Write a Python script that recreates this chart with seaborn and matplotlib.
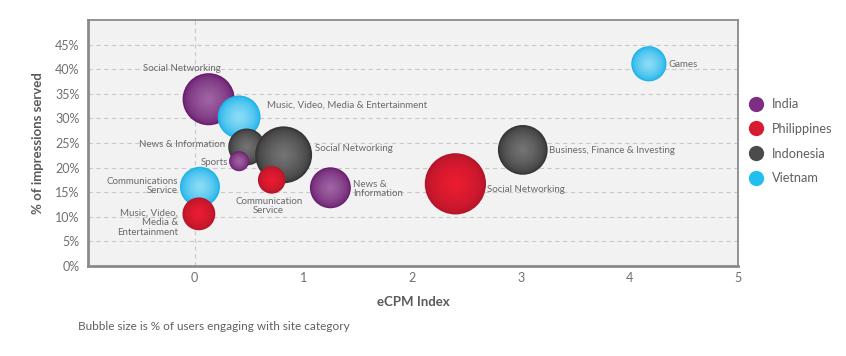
import numpy as np
import pandas as pd
import matplotlib.pyplot as plt
import matplotlib.colors as mcolors
from matplotlib.lines import Line2D
import seaborn as sns

sns.set_style("white")
plt.rcParams["font.family"] = ["Lato", "DejaVu Sans"]

# bubbles, in drawing order (later ones sit on top)
countries = ["India", "Vietnam", "Indonesia", "Indonesia", "India", "Philippines",
             "Vietnam", "Philippines", "India", "Philippines", "Indonesia", "Vietnam"]
categories = ["Social Networking", "Music, Video, Media & Entertainment",
              "News & Information", "Social Networking", "Sports",
              "Communication\nService", "Communications\nService",
              "Music, Video,\nMedia &\nEntertainment", "News &\nInformation",
              "Social Networking", "Business, Finance & Investing", "Games"]
ecpm = [0.13, 0.41, 0.48, 0.82, 0.41, 0.71, 0.05, 0.04, 1.25, 2.40, 3.02, 4.18]
impressions = [33.9, 30.3, 24.2, 22.6, 21.3, 17.5, 16.1, 10.6, 15.9, 16.7, 23.6, 41.1]
users = [68, 46, 34, 81, 10, 19, 40, 27, 42, 94, 62, 31]

country_order = ["India", "Philippines", "Indonesia", "Vietnam"]
palette = {"India": "#7E2C84", "Philippines": "#D81B2F",
           "Indonesia": "#4B4B4B", "Vietnam": "#22BEEE"}
# edge / centre colours for the sphere look
shading = {"India": ("#6A1E70", "#A064A3"), "Philippines": ("#B5152A", "#EC1C30"),
           "Indonesia": ("#363636", "#747474"), "Vietnam": ("#1CB2EA", "#8EDCF6")}

# label offsets in pixels and alignment
offsets = [(-27, 31, "center"), (28, 12, "left"), (-22, 2, "right"), (31, 6, "left"),
           (-11, -1, "right"), (-3, -26, "center"), (-22, 1, "right"), (-21, -9, "right"),
           (23, -1, "left"), (32, -6, "left"), (26, -1, "left"), (20, -1, "left")]

df = pd.DataFrame({"country": countries, "category": categories, "ecpm": ecpm,
                   "impressions": impressions, "users": users})

# fake sphere shading: stack shrinking, lighter discs per bubble
n_layers = 16
rows = []
shades = {}
for i, r in df.iterrows():
    dark = np.array(mcolors.to_rgb(shading[r["country"]][0]))
    light = np.array(mcolors.to_rgb(shading[r["country"]][1]))
    for k in range(n_layers):
        t = k / (n_layers - 1)
        scale = 1 - 0.94 * t
        key = f"{i}_{k}"
        shades[key] = tuple(dark + (light - dark) * t ** 0.6)
        rows.append({"ecpm": r["ecpm"], "impressions": r["impressions"],
                     "size": r["users"] * scale ** 2, "shade": key})
layers = pd.DataFrame(rows)

fig = plt.figure(figsize=(8.46, 3.56), dpi=100)
ax = fig.add_axes([88 / 846, 1 - 266 / 356, 650 / 846, 246 / 356])
ax.set_facecolor("#F2F2F2")

sns.scatterplot(data=layers, x="ecpm", y="impressions", hue="shade", palette=shades,
                size="size", sizes=(0, 2070), size_norm=(0, 100), linewidth=0,
                legend=False, ax=ax, zorder=3)

for i, r in df.iterrows():
    dx, dy, ha = offsets[i]
    ax.annotate(r["category"], (r["ecpm"], r["impressions"]), xytext=(dx, dy),
                textcoords="offset pixels", ha=ha, va="center", multialignment=ha,
                fontsize=7, color="#6A6A6A", linespacing=1.05, zorder=5)

ax.set_xlim(-0.98, 5)
ax.set_ylim(0, 50)
ax.set_xticks(range(0, 6))
ax.set_yticks(range(0, 50, 5))
ax.set_yticklabels([f"{v}%" for v in range(0, 50, 5)])
ax.tick_params(length=0, labelsize=9, colors="#707070")
ax.tick_params(axis="y", pad=6)
ax.tick_params(axis="x", pad=4)

ax.yaxis.grid(True, color="#C9C9C9", linestyle=(0, (4, 3)), linewidth=0.8)
ax.axvline(0, color="#C9C9C9", linestyle=(0, (4, 3)), linewidth=0.8, zorder=1)
ax.set_axisbelow(True)

for side, sp in ax.spines.items():
    sp.set_visible(True)
    sp.set_color("#8A8A8A")
    sp.set_linewidth(2 if side in ("left", "bottom") else 1.3)

ax.set_xlabel("eCPM Index", fontsize=9.5, fontweight="bold", color="#5A5A5A", labelpad=9)
ax.set_ylabel("% of impressions served", fontsize=9.5, fontweight="bold",
              color="#5A5A5A", labelpad=8)

handles = [Line2D([], [], marker="o", linestyle="", markersize=11,
                  markerfacecolor=palette[c], markeredgewidth=0) for c in country_order]
ax.legend(handles, country_order, loc="upper left", frameon=False,
          bbox_to_anchor=(750 / 846, 1 - 98 / 356), bbox_transform=fig.transFigure,
          borderpad=0, borderaxespad=0, handlelength=1.0, handletextpad=0.7,
          labelspacing=1.0, fontsize=9.2, labelcolor="#606060")

fig.text(78 / 846, 1 - 326 / 356, "Bubble size is % of users engaging with site category",
         fontsize=8.5, color="#606060", va="center", ha="left")

fig.savefig("out.png", dpi=100)
